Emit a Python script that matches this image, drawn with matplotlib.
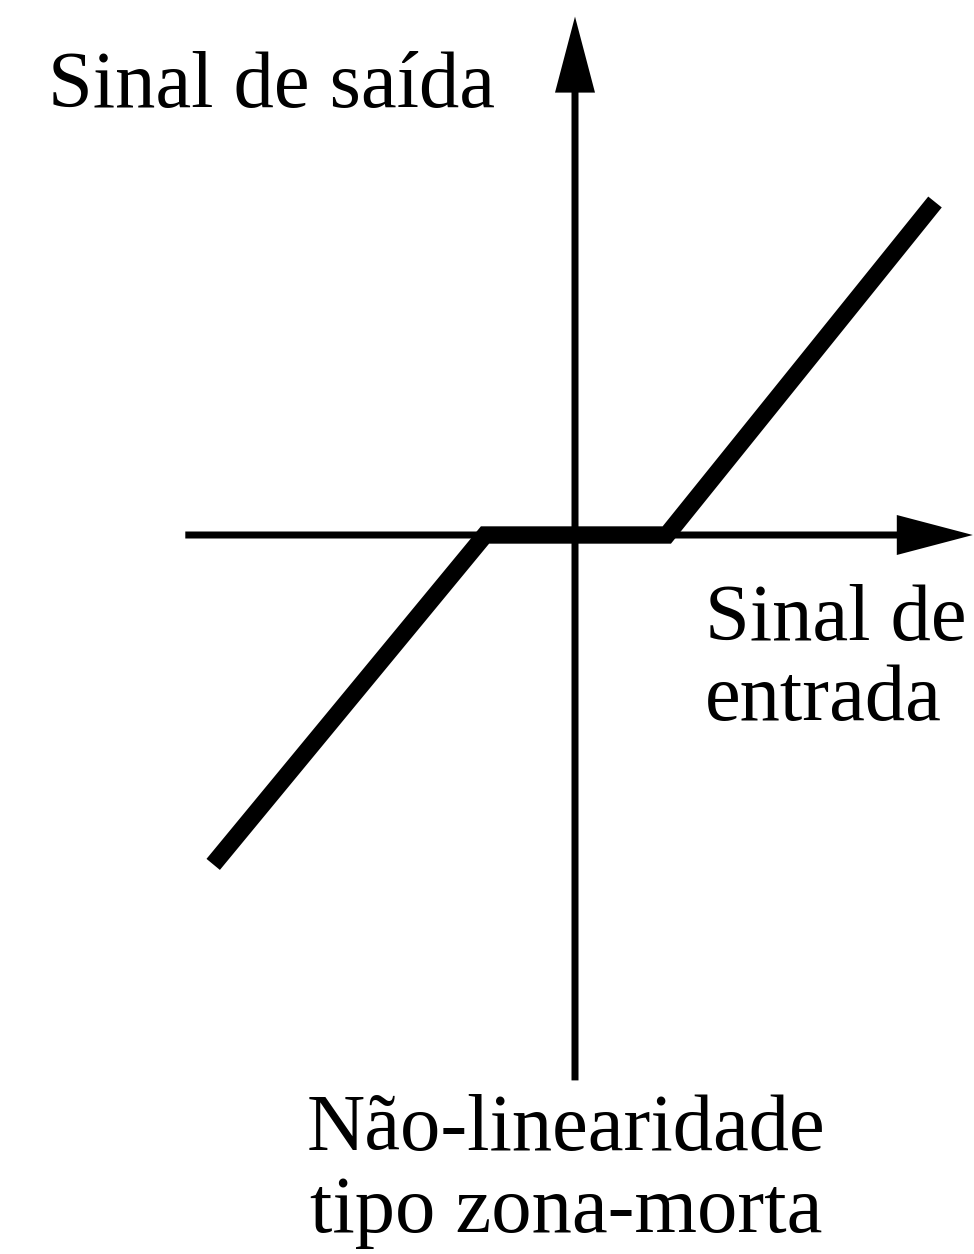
import matplotlib
matplotlib.use("Agg")
import matplotlib.pyplot as plt
from matplotlib.patches import FancyArrow

# Dead-zone nonlinearity characteristic (input -> output)
entrada = [-4.02, -1.0, 1.02, 4.0]
saida = [-3.66, 0.0, 0.0, 3.70]

# axis extents (data units)
x_axis = (-4.33, 4.42)
y_axis = (-6.06, 5.76)

label_y = "Sinal de saída"
label_x = ["Sinal de", "entrada"]
caption = ["Não-linearidade", "tipo zona-morta"]

fig = plt.figure(figsize=(9.74, 12.54), dpi=100)
ax = fig.add_axes([0, 0, 1, 1])
ax.set_xlim(-575 / 90, 399 / 90)
ax.set_ylim(-719 / 90, 535 / 90)
ax.axis("off")

shaft = 7 / 90
hw, hl = 40 / 90, 76 / 90
ax.add_patch(FancyArrow(x_axis[0], 0, x_axis[1] - x_axis[0], 0, width=shaft,
                        head_width=hw, head_length=hl, length_includes_head=True,
                        color="black", lw=0))
ax.add_patch(FancyArrow(0, y_axis[0], 0, y_axis[1] - y_axis[0], width=shaft,
                        head_width=hw, head_length=hl, length_includes_head=True,
                        color="black", lw=0))

ax.plot(entrada, saida, color="black", lw=12.5, solid_capstyle="butt",
        solid_joinstyle="miter")

font = dict(family="Liberation Serif", fontsize=58, color="black")
ax.text(-5.856, 4.756, label_y, ha="left", va="baseline", **font)
ax.text(1.444, -1.167, label_x[0], ha="left", va="baseline", **font)
ax.text(1.444, -2.06, label_x[1], ha="left", va="baseline", **font)
ax.text(-0.1, -6.833, caption[0], ha="center", va="baseline", **font)
ax.text(-0.1, -7.744, caption[1], ha="center", va="baseline", **font)

fig.savefig("out.png", dpi=100, facecolor="white")
